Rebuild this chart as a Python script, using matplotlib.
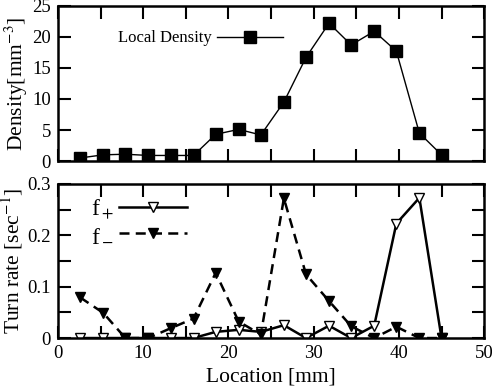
import matplotlib
matplotlib.use('Agg')
import matplotlib.pyplot as plt
from matplotlib.ticker import MultipleLocator

plt.rcParams['font.family'] = ['Liberation Serif', 'DejaVu Serif']
plt.rcParams['mathtext.fontset'] = 'stix'

# sampling positions along the channel [mm]
loc = [2.6, 5.3, 7.9, 10.6, 13.2, 15.9, 18.5, 21.2, 23.8, 26.5,
       29.1, 31.8, 34.4, 37.1, 39.7, 42.4, 45.0]
density = [0.5, 1.0, 1.1, 0.9, 0.9, 0.9, 4.3, 5.1, 4.2, 9.5,
           16.7, 22.2, 18.7, 20.9, 17.7, 4.5, 1.0]
f_plus = [0.0, 0.0, 0.0, 0.0, 0.0, 0.0, 0.012, 0.016, 0.012, 0.025,
          0.0, 0.024, 0.0, 0.024, 0.223, 0.273, 0.0]
f_minus = [0.079, 0.049, 0.0, 0.0, 0.019, 0.038, 0.127, 0.032, 0.007, 0.272,
           0.124, 0.072, 0.023, 0.0, 0.022, 0.0, 0.0]

fig = plt.figure(figsize=(4.92, 3.89), dpi=100)
ax1 = fig.add_axes([0.118, 0.586, 0.866, 0.399])
ax2 = fig.add_axes([0.118, 0.131, 0.866, 0.396])

ax1.plot(loc, density, color='black', lw=1, marker='s', ms=8.5,
         label='Local Density')
ax1.set_xlim(0, 50)
ax1.set_ylim(0, 25)
ax1.yaxis.set_major_locator(MultipleLocator(5))
ax1.xaxis.set_major_locator(MultipleLocator(5))
ax1.set_xticklabels([])
ax1.set_ylabel('Density[mm$^{-3}$]', fontsize=15.5, labelpad=2)
ax1.legend(loc='center left', bbox_to_anchor=(0.125, 0.79), frameon=False,
           markerfirst=False, handlelength=4.0, numpoints=1, fontsize=12,
           borderaxespad=0, handletextpad=0.3)

ax2.plot(loc, f_plus, color='black', lw=1.8, marker='v', ms=7.5,
         mfc='white', mec='black', mew=1, label='f$_+$')
ax2.plot(loc, f_minus, color='black', lw=1.8, ls=(0, (4, 2.5)), marker='v',
         ms=7.5, mfc='black', mec='black', label='f$_-$')
ax2.set_xlim(0, 50)
ax2.set_ylim(0, 0.3)
ax2.xaxis.set_major_locator(MultipleLocator(10))
ax2.xaxis.set_minor_locator(MultipleLocator(5))
ax2.yaxis.set_minor_locator(MultipleLocator(0.05))
ax2.set_yticks([0, 0.1, 0.2, 0.3])
ax2.set_yticklabels(['0', '0.1', '0.2', '0.3'])
ax2.set_xlabel('Location [mm]', fontsize=15.5, labelpad=4)
ax2.set_ylabel('Turn rate [sec$^{-1}$]', fontsize=15.5, labelpad=2)
ax2.legend(loc='center left', bbox_to_anchor=(0.055, 0.755), frameon=False,
           markerfirst=False, handlelength=2.9, numpoints=1, fontsize=17,
           borderaxespad=0, labelspacing=0.15, handletextpad=0.2)

for ax in (ax1, ax2):
    for s in ax.spines.values():
        s.set_linewidth(1.8)
    ax.tick_params(which='both', direction='in', top=True, right=True,
                   length=9, width=1.5, labelsize=13.5, pad=5)

fig.savefig('out.png', dpi=100)
